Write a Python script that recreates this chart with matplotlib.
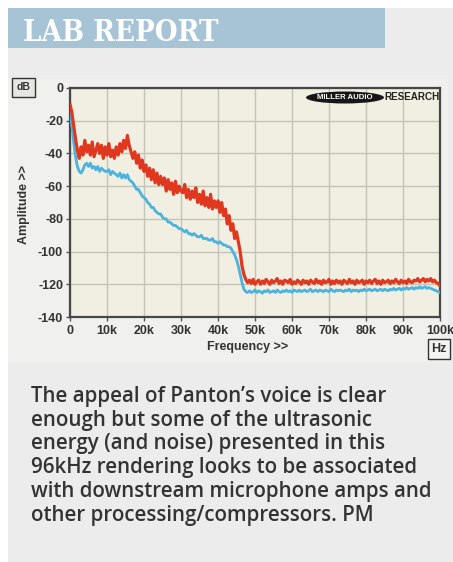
import numpy as np
import matplotlib
matplotlib.use('Agg')
import matplotlib.pyplot as plt
from matplotlib.patches import Rectangle, Ellipse

# ---------------- data ----------------
freq_khz = np.arange(0, 100.5, 0.5)

red_db = [
    -10, -15, -23, -31, -38, -43, -36, -41, -32, -39,
    -35, -41, -33, -42, -38, -34, -40, -35, -43, -36,
    -41, -34, -42, -38, -43, -36, -41, -34, -39, -32,
    -37, -29, -35, -39, -43, -39, -46, -41, -49, -44,
    -51, -47, -54, -49, -56, -50, -58, -52, -59, -54,
    -59, -55, -63, -56, -62, -58, -65, -57, -64, -60,
    -63, -64, -59, -67, -62, -68, -63, -67, -61, -70,
    -65, -71, -63, -72, -67, -73, -65, -74, -69, -73,
    -69, -76, -70, -78, -74, -83, -78, -87, -83, -92,
    -88, -94, -100, -109, -114, -117, -119,
    -117.5, -119.5, -117, -120, -118.5, -117.5, -120, -118, -119.5, -117,
    -118.5, -120, -117.5, -119, -118, -116.5, -119.5, -118, -120, -117.5,
    -118, -119, -117, -120, -118.5, -119.5, -117.5, -118.5, -120, -117.5,
    -119, -118, -120, -117.5, -118.5, -119.5, -117, -119, -118, -120,
    -117.5, -119, -118.5, -117, -120, -118, -119.5, -117.5, -119, -118,
    -120, -117.5, -118.5, -119.5, -117, -119, -118, -120, -117.5, -119,
    -118.5, -117.5, -120, -118, -119, -117.5, -119.5, -118, -117, -119.5,
    -118, -120, -117.5, -119, -118.5, -117.5, -119.5, -118, -119, -117,
    -118.5, -119.5, -117.5, -119, -118, -119.5, -117, -118.5, -119, -117.5,
    -118, -116.5, -118.5, -117.5, -116.5, -118.5, -117, -118, -116.5, -118.5,
    -117.5, -119, -119.5, -121,
]

blue_db = [
    -15, -23, -33, -42, -48, -51, -52, -50, -47, -46,
    -48, -46, -49, -48, -50, -48, -51, -49, -50, -51,
    -51, -50, -53, -51, -52, -53, -54, -52, -55, -53,
    -55, -53, -56, -57, -58, -60, -62, -62, -64, -66,
    -67, -68, -70, -71, -73, -73, -75, -76, -77, -77,
    -79, -80, -80, -82, -82, -83, -84, -84, -85, -86,
    -86, -87, -88, -87, -89, -89, -90, -89, -90, -91,
    -91, -90, -92, -92, -92, -93, -93, -92, -94, -94,
    -95, -94, -95, -96, -96, -97, -97, -98, -100, -102,
    -105, -109, -114, -119, -123, -124.5, -125,
    -124, -125, -124.5, -123.5, -125, -124, -124.5, -125.5, -124, -124.5,
    -123.5, -125, -124.5, -124, -125, -123.5, -124.5, -125, -124, -124.5,
    -123.5, -124.5, -124, -125, -123.5, -124, -124.5, -123.5, -124.5, -124,
    -123.5, -124.5, -124, -123, -124.5, -124, -123.5, -124.5, -123.5, -124,
    -124.5, -123.5, -124, -124.5, -123, -124, -124.5, -123.5, -124, -123.5,
    -124, -124.5, -123.5, -124, -123, -124.5, -123.5, -124, -123.5, -124.5,
    -123.5, -124, -123, -124, -123.5, -123, -124, -123.5, -123, -124,
    -123.5, -123, -124, -123, -123.5, -124, -123, -123.5, -122.5, -123.5,
    -123, -122.5, -123.5, -122.5, -123, -122, -123, -122.5, -122, -123,
    -122, -122.5, -121.5, -122.5, -122, -121.5, -122.5, -122, -122.5, -123,
    -123.5, -124, -124.5, -125,
]

x_ticks = [0, 10, 20, 30, 40, 50, 60, 70, 80, 90, 100]
x_tick_labels = ['0', '10k', '20k', '30k', '40k', '50k', '60k', '70k', '80k', '90k', '100k']
y_ticks = [-140, -120, -100, -80, -60, -40, -20, 0]
y_tick_labels = ['-140', '-120', '-100', '-80', '-60', '-40', '-20', '0']

header = "LAB REPORT"
caption_lines = [
    "The appeal of Panton\u2019s voice is clear",
    "enough but some of the ultrasonic",
    "energy (and noise) presented in this",
    "96kHz rendering looks to be associated",
    "with downstream microphone amps and",
    "other processing/compressors. PM",
]

# ---------------- layout ----------------
W, H = 453, 562
fig = plt.figure(figsize=(W / 100, H / 100), dpi=100)
fig.patch.set_facecolor('white')


def fx(x):
    return x / W


def fy(y):
    return 1 - y / H


fig.add_artist(Rectangle((fx(8), 0), 1 - fx(8), fy(8), transform=fig.transFigure,
                         facecolor='#ececec', edgecolor='none', zorder=-10))
fig.add_artist(Rectangle((fx(8), fy(362)), fx(448) - fx(8), fy(79) - fy(362),
                         transform=fig.transFigure, facecolor='#f0f0ee',
                         edgecolor='none', zorder=-9))
fig.add_artist(Rectangle((fx(8), fy(48)), fx(385) - fx(8), fy(8) - fy(48),
                         transform=fig.transFigure, facecolor='#a6c4d6',
                         edgecolor='none', zorder=-8))

renderer = fig.canvas.get_renderer()


def fit_width(t, target_px):
    fs = t.get_fontsize()
    w = t.get_window_extent(renderer).width
    t.set_fontsize(fs * target_px / w)


ht = fig.text(fx(23), fy(41), header, family='DejaVu Serif', weight='bold',
              stretch='condensed', color='white', fontsize=24,
              ha='left', va='baseline')
fit_width(ht, 195)

cap_texts = []
for i, line in enumerate(caption_lines):
    t = fig.text(fx(31), fy(402 + i * 23.7), line, family=['Open Sans', 'DejaVu Sans'],
                 weight='semibold', color='#333333', fontsize=13,
                 ha='left', va='baseline')
    cap_texts.append(t)
ref = cap_texts[3]
fs0 = ref.get_fontsize()
w0 = ref.get_window_extent(renderer).width
for t in cap_texts:
    t.set_fontsize(fs0 * 387 / w0)

# ---------------- chart ----------------
ax = fig.add_axes([fx(70), fy(317), fx(440) - fx(70), fy(88) - fy(317)])
ax.set_facecolor('#f1efe2')
ax.plot(freq_khz, blue_db, color='#4bb3de', lw=2.0, zorder=3)
ax.plot(freq_khz, red_db, color='#e0381e', lw=2.3, zorder=4)
ax.set_xlim(0, 100)
ax.set_ylim(-140, 0)
ax.set_xticks(x_ticks)
ax.set_xticklabels(x_tick_labels)
ax.set_yticks(y_ticks)
ax.set_yticklabels(y_tick_labels)
ax.grid(True, color='#c4c3b7', lw=1.0, zorder=1)
ax.set_axisbelow(True)
for s in ax.spines.values():
    s.set_color('#474747')
    s.set_linewidth(1.6)
ax.tick_params(axis='both', length=3, width=1, color='#555555',
               labelcolor='#333333', labelsize=9)
ax.tick_params(axis='x', pad=3)
ax.tick_params(axis='y', pad=2)
for lab in ax.get_xticklabels() + ax.get_yticklabels():
    lab.set_family('Liberation Sans')
    lab.set_weight('bold')

fig.text(fx(24), fy(205), 'Amplitude >>', rotation=90, ha='center', va='center',
         family='Liberation Sans', weight='bold', fontsize=9, color='#333333')
fig.text(fx(248), fy(347), 'Frequency >>', ha='center', va='center',
         family='Liberation Sans', weight='bold', fontsize=9, color='#333333')

fig.text(fx(23.5), fy(87.5), 'dB', ha='center', va='center',
         family='Liberation Sans', weight='bold', fontsize=7.5, color='#333333',
         bbox=dict(boxstyle='square,pad=0.45', facecolor='#e6e6e2',
                   edgecolor='#333333', lw=1.0))
fig.text(fx(439), fy(349), 'Hz', ha='center', va='center',
         family='Liberation Sans', weight='bold', fontsize=9, color='#333333',
         bbox=dict(boxstyle='square,pad=0.3', facecolor='#f3f3f0',
                   edgecolor='#333333', lw=1.0))

# logo
fig.add_artist(Ellipse((fx(345), fy(97.5)), fx(78), 12 / H, transform=fig.transFigure,
                       facecolor='#161616', edgecolor='none', zorder=5))
fig.text(fx(345), fy(97.5), 'MILLER AUDIO', ha='center', va='center', color='white',
         family='Liberation Sans', weight='bold', fontsize=5.6, zorder=6)
rt = fig.text(fx(384), fy(96.5), 'RESEARCH', ha='left', va='center', color='#222222',
              family='Liberation Sans', weight='bold', fontsize=5.8, zorder=6)
fit_width(rt, 55)

fig.savefig('out.png', dpi=100, facecolor=fig.get_facecolor())
